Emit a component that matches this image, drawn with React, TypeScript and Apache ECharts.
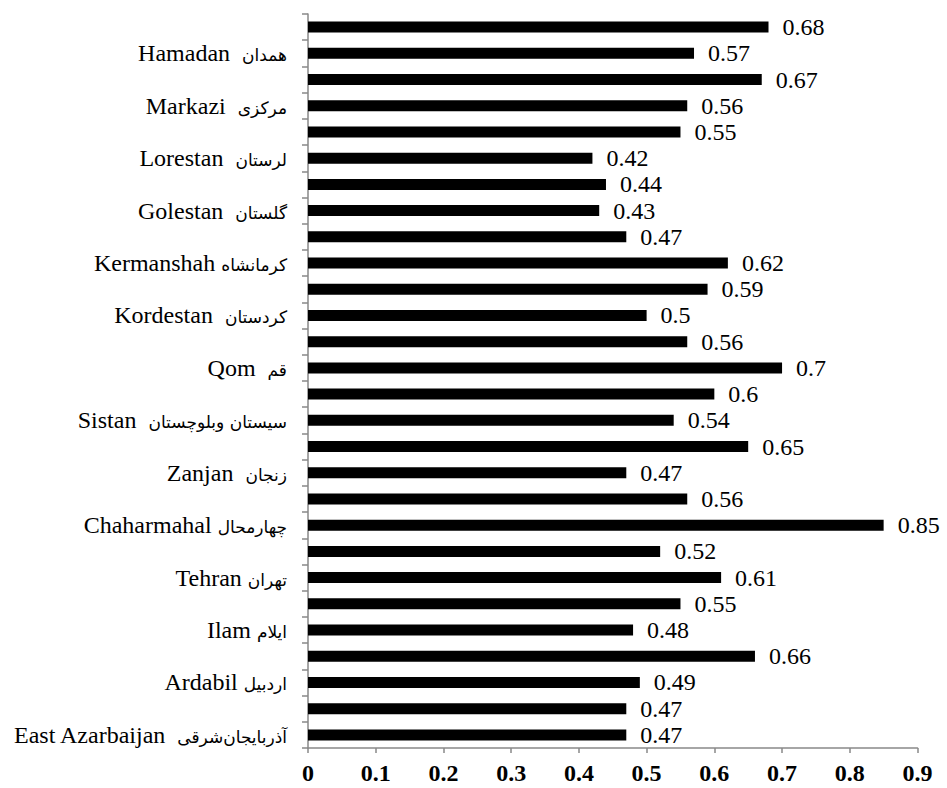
import React, { useEffect, useRef } from "react";
import * as echarts from "echarts";

// Values from bottom to top (28 bars)
const values: number[] = [
  0.47, 0.47, 0.49, 0.66, 0.48, 0.55, 0.61, 0.52, 0.85, 0.56, 0.47, 0.65, 0.54, 0.6,
  0.7, 0.56, 0.5, 0.59, 0.62, 0.47, 0.43, 0.44, 0.42, 0.55, 0.56, 0.67, 0.57, 0.68,
];

// Labels shown on every other bar, from bottom to top
const namesEn: string[] = [
  "East Azarbaijan\u00a0\u00a0",
  "Ardabil ",
  "Ilam ",
  "Tehran ",
  "Chaharmahal ",
  "Zanjan\u00a0\u00a0",
  "Sistan\u00a0\u00a0",
  "Qom\u00a0\u00a0",
  "Kordestan\u00a0\u00a0",
  "Kermanshah ",
  "Golestan\u00a0\u00a0",
  "Lorestan\u00a0\u00a0",
  "Markazi\u00a0\u00a0",
  "Hamadan\u00a0\u00a0",
];
const namesFa: string[] = [
  "آذربایجان‌شرقی",
  "اردبیل",
  "ایلام",
  "تهران",
  "چهارمحال",
  "زنجان",
  "سیستان وبلوچستان",
  "قم",
  "کردستان",
  "کرمانشاه",
  "گلستان",
  "لرستان",
  "مرکزی",
  "همدان",
];

const categories: string[] = values.map((_, i) => "c" + i);
const xTicks: number[] = [0, 0.1, 0.2, 0.3, 0.4, 0.5, 0.6, 0.7, 0.8, 0.9];

const FONT = "Liberation Serif";
const AXIS_COLOR = "#898989";

export default function App() {
  const ref = useRef<HTMLDivElement>(null);

  useEffect(() => {
    if (!ref.current) return;
    const chart = echarts.init(ref.current, undefined, { renderer: "svg" });
    chart.setOption({
      animation: false,
      backgroundColor: "#ffffff",
      textStyle: { fontFamily: FONT },
      grid: {
        left: 308,
        right: 29.5,
        top: 14,
        bottom: 40,
        containLabel: false,
        outerBoundsMode: "none",
      },
      xAxis: {
        type: "value",
        min: xTicks[0],
        max: xTicks[xTicks.length - 1],
        interval: 0.1,
        axisLine: { show: true, lineStyle: { color: AXIS_COLOR, width: 1.5 } },
        axisTick: { show: true, length: 5, lineStyle: { color: AXIS_COLOR, width: 1.5 } },
        splitLine: { show: false },
        axisLabel: {
          margin: 13,
          color: "#000",
          fontFamily: FONT,
          fontSize: 24,
          fontWeight: "bold",
          formatter: (v: number) => String(+v.toFixed(1)),
        },
      },
      yAxis: {
        type: "category",
        data: categories,
        axisLine: { show: true, lineStyle: { color: AXIS_COLOR, width: 1.5 } },
        axisTick: { show: true, length: 6, interval: 0, lineStyle: { color: AXIS_COLOR, width: 1.5 } },
        splitLine: { show: false },
        axisLabel: {
          interval: 0,
          margin: 21,
          color: "#000",
          fontFamily: FONT,
          fontSize: 24,
          fontWeight: "normal",
          formatter: (_: string, idx: number) =>
            idx % 2 === 0 ? `{en|${namesEn[idx / 2]}}{fa|${namesFa[idx / 2]}}` : "",
          rich: {
            en: { fontFamily: FONT, fontSize: 24, fontWeight: "normal", color: "#000" },
            fa: {
              fontFamily: "DejaVu Sans",
              fontSize: 17,
              fontWeight: "normal",
              color: "#000",
              padding: [4, 0, 0, 0],
            },
          },
        },
      },
      series: [
        {
          type: "bar",
          data: values,
          barWidth: 11,
          itemStyle: { color: "#000000" },
          label: {
            show: true,
            position: "right",
            distance: 14,
            color: "#000",
            fontFamily: FONT,
            fontSize: 24,
            fontWeight: "normal",
            formatter: (p: any) => String(p.value),
          },
        },
      ],
    });
    return () => chart.dispose();
  }, []);

  return <div ref={ref} style={{ width: 947, height: 788, position: "absolute", left: 0, top: 0 }} />;
}
